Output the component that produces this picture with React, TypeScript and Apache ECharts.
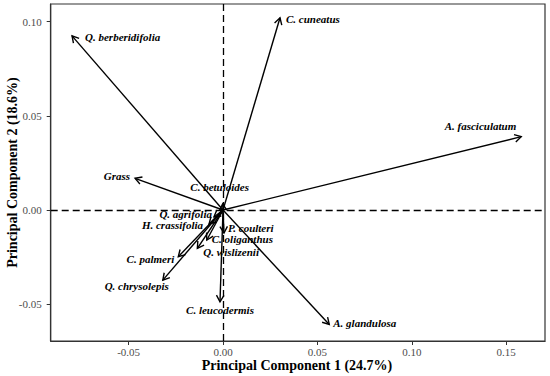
import React, { useEffect, useRef } from "react";
import * as echarts from "echarts";

const names = [
  "Q. berberidifolia", "C. cuneatus", "A. fasciculatum", "Grass", "C. betuloides",
  "Q. agrifolia", "H. crassifolia", "P. coulteri", "C. oliganthus", "Q. wislizenii",
  "C. palmeri", "Q. chrysolepis", "C. leucodermis", "A. glandulosa",
];
const pc1 = [-0.080, 0.0302, 0.158, -0.0466, -0.0002, -0.0048, -0.0074, 0.0005, -0.0086, -0.0136, -0.0237, -0.0319, -0.0016, 0.0563];
const pc2 = [0.0924, 0.102, 0.0389, 0.0168, 0.0032, -0.0037, -0.0074, -0.0122, -0.0159, -0.0204, -0.0248, -0.0372, -0.0487, -0.0607];

// label placement relative to arrow tip (pixels) and alignment
const labelDx = [13, 6, -5, -5, -3, -2, -6, 4, 5, 6, -4, 6, 0, 4];
const labelDy = [1, 1, -11, -2, -17, -3, 1, -5.5, -0.5, 3.5, 2, 6, 8, -1];
const labelAlign = ["left", "left", "right", "right", "center", "right", "right", "left", "left", "left", "right", "right", "center", "left"];

const xTicks = [-0.05, 0, 0.05, 0.1, 0.15];
const yTicks = [-0.05, 0, 0.05, 0.1];

const FONT = "Liberation Serif, Times New Roman, serif";

export default function App() {
  const ref = useRef<HTMLDivElement>(null);
  useEffect(() => {
    if (!ref.current) return;
    const chart = echarts.init(ref.current, undefined, { renderer: "svg" });
    const data = names.map((n, i) => [pc1[i], pc2[i], i]);
    chart.setOption({
      animation: false,
      backgroundColor: "#fff",
      grid: { left: 50.7, right: 5, top: 4, bottom: 35, show: true, borderColor: "#333", borderWidth: 1.2, backgroundColor: "transparent" },
      xAxis: {
        type: "value",
        min: -0.0913,
        max: 0.1706,
        splitLine: { show: false },
        axisLine: { show: true, onZero: false, lineStyle: { color: "#333", width: 1.2 } },
        axisTick: { show: true, customValues: xTicks, length: 4, lineStyle: { color: "#333" } },
        axisLabel: {
          customValues: xTicks,
          formatter: (v: number) => v.toFixed(2),
          color: "#4d4d4d",
          fontFamily: FONT,
          fontSize: 11,
          margin: 5,
        },
      },
      yAxis: {
        type: "value",
        min: -0.0695,
        max: 0.1093,
        splitLine: { show: false },
        axisLine: { show: true, onZero: false, lineStyle: { color: "#333", width: 1.2 } },
        axisTick: { show: true, customValues: yTicks, length: 4, lineStyle: { color: "#333" } },
        axisLabel: {
          customValues: yTicks,
          formatter: (v: number) => v.toFixed(2),
          color: "#4d4d4d",
          fontFamily: FONT,
          fontSize: 11,
          margin: 9,
        },
      },
      graphic: [
        {
          type: "text",
          x: 297,
          y: 365,
          style: {
            text: "Principal Component 1 (24.7%)",
            font: `bold 14px ${FONT}`,
            textAlign: "center",
            textVerticalAlign: "middle",
            fill: "#000",
          },
        },
        {
          type: "text",
          x: 12,
          y: 172.5,
          rotation: Math.PI / 2,
          style: {
            text: "Principal Component 2 (18.6%)",
            font: `bold 14px ${FONT}`,
            textAlign: "center",
            textVerticalAlign: "middle",
            fill: "#000",
          },
        },
      ],
      series: [
        {
          type: "custom",
          data,
          encode: { x: 0, y: 1 },
          clip: false,
          renderItem: (params: any, api: any) => {
            const x = api.value(0);
            const y = api.value(1);
            const i = api.value(2);
            const o = api.coord([0, 0]);
            const t = api.coord([x, y]);
            const ang = Math.atan2(t[1] - o[1], t[0] - o[0]);
            const L = 7.5;
            const a = Math.PI / 6;
            const p1 = [t[0] - L * Math.cos(ang - a), t[1] - L * Math.sin(ang - a)];
            const p2 = [t[0] - L * Math.cos(ang + a), t[1] - L * Math.sin(ang + a)];
            return {
              type: "group",
              children: [
                { type: "line", shape: { x1: o[0], y1: o[1], x2: t[0], y2: t[1] }, style: { stroke: "#000", lineWidth: 1.4 } },
                { type: "polyline", shape: { points: [p1, t, p2] }, style: { stroke: "#000", lineWidth: 1.4, fill: null } },
                {
                  type: "text",
                  x: t[0] + labelDx[i],
                  y: t[1] + labelDy[i],
                  style: {
                    text: names[i],
                    font: `italic bold 11px ${FONT}`,
                    textAlign: labelAlign[i],
                    textVerticalAlign: "middle",
                    fill: "#000",
                  },
                },
              ],
            };
          },
          markLine: {
            silent: true,
            symbol: "none",
            label: { show: false },
            lineStyle: { color: "#000", type: [7, 4], width: 1.3 },
            data: [{ xAxis: 0 }, { yAxis: 0 }],
          },
        },
      ],
    });
    return () => chart.dispose();
  }, []);
  return <div ref={ref} style={{ position: "absolute", left: 0, top: 0, width: 550, height: 376 }} />;
}
